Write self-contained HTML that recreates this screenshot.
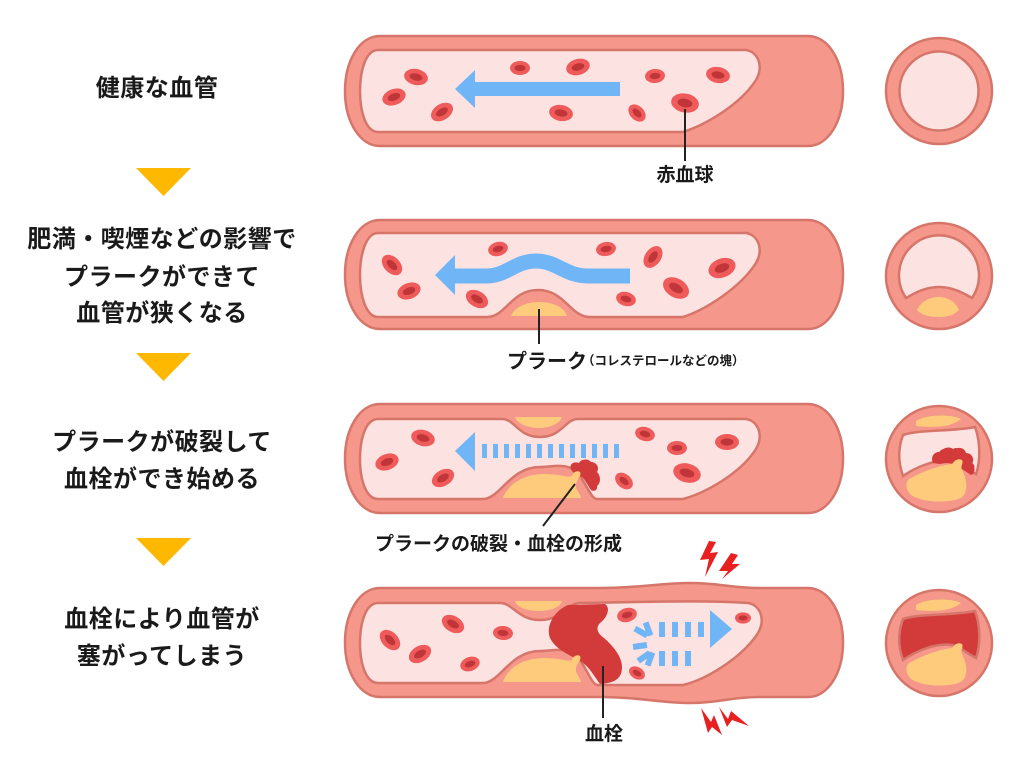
<!DOCTYPE html>
<html>
<head>
<meta charset="utf-8">
<style>
html,body{margin:0;padding:0;background:#fff;}
svg{display:block;}
text{font-family:"Liberation Sans","Noto Sans CJK JP",sans-serif;font-weight:700;fill:#1a1a1a;}
</style>
</head>
<body>
<svg width="1024" height="768" viewBox="0 0 1024 768" xmlns="http://www.w3.org/2000/svg">
<defs>
  <g id="rbc"><ellipse rx="12" ry="8" fill="#EF5B5B"/><ellipse rx="6.5" ry="3.6" fill="#BF3538"/></g>
  <g id="rbcs"><ellipse rx="10" ry="7" fill="#EF5B5B"/><ellipse rx="5.5" ry="3.1" fill="#BF3538"/></g>
  <g id="rbcl"><ellipse rx="14" ry="9.5" fill="#EF5B5B"/><ellipse rx="7.5" ry="4.2" fill="#BF3538"/></g>
</defs>

<!-- Left labels -->
<g font-size="24" text-anchor="middle" letter-spacing="0.5">
  <text x="157" y="96">健康な血管</text>
  <text x="162" y="247">肥満・喫煙などの影響で</text>
  <text x="162" y="285">プラークができて</text>
  <text x="162" y="321">血管が狭くなる</text>
  <text x="162" y="450">プラークが破裂して</text>
  <text x="162" y="487">血栓ができ始める</text>
  <text x="162" y="627">血栓により血管が</text>
  <text x="162" y="664">塞がってしまう</text>
</g>
<g fill="#FFB800">
  <polygon points="136,168 191,168 163.5,196"/>
  <polygon points="136,353 191,353 163.5,381"/>
  <polygon points="136,538 191,538 163.5,566"/>
</g>

<!-- ===== Vessel 1 ===== -->
<path d="M380 36 H808 C828 36 843 60 843 91 C843 122 828 146 808 146 H380 C360 146 345 122 345 91 C345 60 360 36 380 36 Z" fill="#F5978A" stroke="#D6766A" stroke-width="2.5"/>
<path d="M378 50 H746 C758 52 764 66 756 80 C740 105 705 125 683 132 H378 C366 132 360 112 360 91 C360 70 366 50 378 50 Z" fill="#FDE2E2" stroke="#D6766A" stroke-width="2.5"/>
<polygon points="455,89 475,70 475,82 620,82 620,96 475,96 475,108" fill="#70B5F5"/>
<use href="#rbc" transform="translate(416,77) rotate(12)"/>
<use href="#rbc" transform="translate(394,97) rotate(-20)"/>
<use href="#rbc" transform="translate(442,112) rotate(-32)"/>
<use href="#rbcs" transform="translate(520,68)"/>
<use href="#rbc" transform="translate(578,67) rotate(-15)"/>
<use href="#rbc" transform="translate(561,113) rotate(10)"/>
<use href="#rbcs" transform="translate(655,76) rotate(-5)"/>
<use href="#rbc" transform="translate(718,75) rotate(10)"/>
<use href="#rbcs" transform="translate(637,113) rotate(45)"/>
<use href="#rbcl" transform="translate(685,103) rotate(10)"/>
<line x1="685" y1="109" x2="685" y2="161" stroke="#222" stroke-width="2"/>
<text x="685" y="181" font-size="19" text-anchor="middle">赤血球</text>

<!-- ===== Vessel 2 ===== -->
<path d="M380 220 H808 C828 220 843 244 843 274.5 C843 305 828 329 808 329 H380 C360 329 345 305 345 274.5 C345 244 360 220 380 220 Z" fill="#F5978A" stroke="#D6766A" stroke-width="2.5"/>
<path d="M378 233 H746 C758 235 764 249 756 263 C740 288 705 310 683 317 H590 C570 317 565 290 538 290 C511 290 506 317 487 317 H378 C366 317 360 296 360 275 C360 254 366 233 378 233 Z" fill="#FDE2E2" stroke="#D6766A" stroke-width="2.5"/>
<path d="M511 316 C515 306 528 302 539 302 C551 302 564 306 567 316 Z" fill="#FDCB7B"/>
<path d="M630 276 H588 C565 276 557 261 536 261 C515 261 507 276 486 276 H453" fill="none" stroke="#70B5F5" stroke-width="15"/>
<polygon points="435,275 455,255 455,295" fill="#70B5F5"/>
<use href="#rbc" transform="translate(392,265) rotate(45)"/>
<use href="#rbc" transform="translate(409,291) rotate(-20)"/>
<use href="#rbcs" transform="translate(498,249) rotate(-15)"/>
<use href="#rbc" transform="translate(477,299) rotate(30)"/>
<use href="#rbcs" transform="translate(606,249) rotate(-10)"/>
<use href="#rbc" transform="translate(653,257) rotate(-55)"/>
<use href="#rbcs" transform="translate(626,299) rotate(15)"/>
<use href="#rbcl" transform="translate(722,268) rotate(-20)"/>
<use href="#rbcl" transform="translate(676,288) rotate(30)"/>
<line x1="539" y1="309" x2="539" y2="344" stroke="#222" stroke-width="2"/>
<text x="507" y="368" font-size="20">プラーク</text>
<text x="582" y="365" font-size="12.5">（コレステロールなどの塊）</text>

<!-- ===== Vessel 3 ===== -->
<path d="M380 404 H808 C828 404 843 428 843 458.5 C843 489 828 513 808 513 H380 C360 513 345 489 345 458.5 C345 428 360 404 380 404 Z" fill="#F5978A" stroke="#D6766A" stroke-width="2.5"/>
<path d="M378 419 H502 C515 419 518 437 540 437 C562 437 565 419 578 419 H746 C758 421 764 435 756 449 C740 474 705 493 683 499 H597 C590 499 585 478 574 470 C565 463 550 467 540 467 C510 467 500 499 483 499 H378 C366 499 360 480 360 459 C360 438 366 419 378 419 Z" fill="#FDE2E2" stroke="#D6766A" stroke-width="2.5"/>
<path d="M515 417 H562 C560 424 549 428 539 428 C528 428 517 424 515 417 Z" fill="#FDCB7B"/>
<path d="M571 469 C569 464 574 461 579 463 C581 459 588 458 591 462 C596 462 600 467 597 472 C601 476 601 483 597 486 C598 490 594 492 591 490 C588 486 586 481 582 477 C577 475 572 473 571 469 Z" fill="#D33A3A"/>
<g fill="#D33A3A">
  <circle cx="586" cy="467" r="6"/>
  <circle cx="592" cy="477" r="6"/>
</g>
<path d="M503 498 C508 485 522 474 545 474 C560 474 568 478 572 476 C573 472 577 470 580 472 C582 476 577 479 576 484 C575 490 581 494 581 498 Z" fill="#FDCB7B"/>
<g fill="#70B5F5">
  <polygon points="455,451 475,432 475,471"/>
  <rect x="482" y="444" width="5" height="14"/><rect x="493" y="444" width="5" height="14"/>
  <rect x="504" y="444" width="5" height="14"/><rect x="515" y="444" width="5" height="14"/>
  <rect x="526" y="444" width="5" height="14"/><rect x="537" y="444" width="5" height="14"/>
  <rect x="548" y="444" width="5" height="14"/><rect x="559" y="444" width="5" height="14"/>
  <rect x="570" y="444" width="5" height="14"/><rect x="581" y="444" width="5" height="14"/>
  <rect x="592" y="444" width="5" height="14"/><rect x="603" y="444" width="5" height="14"/>
  <rect x="614" y="444" width="5" height="14"/>
</g>
<use href="#rbc" transform="translate(423,438) rotate(15)"/>
<use href="#rbc" transform="translate(387,462) rotate(-20)"/>
<use href="#rbc" transform="translate(443,478) rotate(-30)"/>
<use href="#rbcs" transform="translate(645,434) rotate(15)"/>
<use href="#rbcs" transform="translate(677,448)"/>
<use href="#rbc" transform="translate(727,442)"/>
<use href="#rbcs" transform="translate(624,481) rotate(40)"/>
<use href="#rbcl" transform="translate(687,473) rotate(15)"/>
<line x1="575" y1="484" x2="543" y2="526" stroke="#222" stroke-width="2"/>
<text x="375" y="550" font-size="19">プラークの破裂・血栓の形成</text>

<!-- ===== Vessel 4 ===== -->
<path d="M380 588 H600 C640 588 660 583 690 583 C720 583 730 588 760 588 H808 C828 588 843 612 843 642.5 C843 673 828 697 808 697 H760 C730 697 720 703 690 703 C660 703 640 697 600 697 H380 C360 697 345 673 345 642.5 C345 612 360 588 380 588 Z" fill="#F5978A" stroke="#D6766A" stroke-width="2.5"/>
<path d="M378 603 H500 C513 603 518 620 540 620 C562 620 567 603 580 603 C650 602 700 600 748 603 C760 605 766 619 758 633 C742 658 705 680 683 685 H597 C590 683 585 662 574 654 C565 647 550 651 540 651 C510 651 500 683 483 683 H378 C366 683 360 664 360 643 C360 622 366 603 378 603 Z" fill="#FDE2E2" stroke="#D6766A" stroke-width="2.5"/>
<path d="M515 601 H562 C560 608 549 611 539 611 C528 611 517 608 515 601 Z" fill="#FDCB7B"/>
<path d="M568 605 L605 604 C611 608 607 618 600 623 C595 628 598 634 604 638 C612 645 622 656 622 667 C622 677 617 683 600 684 C594 676 590 668 582 662 C570 655 556 650 550 638 C546 628 552 612 568 605 Z" fill="#D33A3A"/>
<path d="M503 682 C508 668 522 658 545 658 C560 658 568 662 572 660 C573 656 577 654 580 656 C582 660 577 663 576 668 C575 674 581 678 581 682 Z" fill="#FDCB7B"/>
<g fill="#70B5F5">
  <rect x="659" y="622" width="6" height="15"/><rect x="672" y="622" width="6" height="15"/>
  <rect x="685" y="622" width="6" height="15"/><rect x="698" y="622" width="6" height="15"/>
  <polygon points="710,610 732,629 710,648"/>
  <rect x="659" y="651" width="6" height="15"/><rect x="672" y="651" width="6" height="15"/>
  <rect x="685" y="651" width="6" height="15"/>
  <rect x="645" y="622" width="6" height="14" transform="rotate(-20 648 629)"/>
  <rect x="634" y="629" width="14" height="6" transform="rotate(30 641 632)"/>
  <rect x="633" y="643" width="14" height="6" transform="rotate(-8 640 646)"/>
  <rect x="637" y="654" width="14" height="6" transform="rotate(-35 644 657)"/>
  <rect x="647" y="652" width="6" height="14" transform="rotate(20 650 659)"/>
</g>
<use href="#rbc" transform="translate(390,640) rotate(45)"/>
<use href="#rbc" transform="translate(420,654) rotate(-30)"/>
<use href="#rbc" transform="translate(453,624) rotate(30)"/>
<use href="#rbcs" transform="translate(503,633) rotate(5)"/>
<use href="#rbcs" transform="translate(470,664) rotate(-20)"/>
<use href="#rbcs" transform="translate(627,615) rotate(-15)"/>
<use href="#rbcs" transform="translate(743,618) scale(0.8)"/>
<use href="#rbcs" transform="translate(637,673) rotate(30) scale(0.85)"/>
<line x1="603" y1="666" x2="603" y2="718" stroke="#222" stroke-width="2"/>
<text x="604" y="740" font-size="19" text-anchor="middle">血栓</text>

<!-- Lightning -->
<g fill="#E8201F">
  <polygon points="716,542 710,553 718,552 705,577 709,559 700,560 709,541"/>
  <polygon points="738,555 732,564 740,564 722,579 728,571 719,571 731,553"/>
  <polygon points="701,708 711,722 714,715 722,735 712,727 708,733"/>
  <polygon points="719,707 728,719 731,711 749,726 732,720 727,727"/>
</g>

<!-- ===== Cross-section circles ===== -->
<!-- 1 -->
<circle cx="939" cy="91" r="53" fill="#F5978A" stroke="#D6766A" stroke-width="2.5"/>
<circle cx="939" cy="91" r="39.5" fill="#FDE2E2" stroke="#D6766A" stroke-width="2.5"/>
<!-- 2 -->
<circle cx="939" cy="276" r="53" fill="#F5978A" stroke="#D6766A" stroke-width="2.5"/>
<path d="M906 298 A40 40 0 1 1 972 298 C963 293 953 287 939 287 C925 287 915 293 906 298 Z" fill="#FDE2E2" stroke="#D6766A" stroke-width="2.5"/>
<path d="M917 310 C921 301 930 297 939 297 C949 297 956 303 959 310 C953 316 946 317 938 317 C929 317 921 315 917 310 Z" fill="#FDCB7B"/>
<!-- 3 -->
<circle cx="939" cy="459" r="53" fill="#F5978A" stroke="#D6766A" stroke-width="2.5"/>
<path d="M903 435 C922 429 950 432 975 427 C980 440 981 460 976 474 C966 469 961 463 952 461 C935 459 916 467 903 476 C898 462 898 448 903 435 Z" fill="#FDE2E2" stroke="#D6766A" stroke-width="2.5"/>
<path d="M916 421 C926 414 952 414 961 419 C952 427 935 428 916 426 Z" fill="#FDCB7B"/>
<path d="M933 463 C930 456 935 451 941 452 C943 447 951 446 954 450 C958 446 965 448 966 453 C972 453 975 459 972 464 C976 468 975 474 971 475 L962 469 C955 463 948 462 940 464 Z" fill="#D33A3A"/>
<g fill="#D33A3A">
  <circle cx="944" cy="454" r="5"/><circle cx="956" cy="453" r="5"/>
  <circle cx="965" cy="459" r="5"/><circle cx="970" cy="467" r="4.5"/>
</g>
<path d="M909 479 C924 471 940 465 952 464 C955 460 958 458 962 460 C964 463 960 466 962 470 C967 480 969 492 961 498 C946 504 921 502 911 495 C906 490 905 483 909 479 Z" fill="#FDCB7B"/>
<!-- 4 -->
<circle cx="939" cy="643" r="53" fill="#F5978A" stroke="#D6766A" stroke-width="2.5"/>
<g transform="translate(0,184)">
  <path d="M903 435 C922 429 950 432 975 427 C980 440 981 460 976 474 C966 469 961 463 952 461 C935 459 916 467 903 476 C898 462 898 448 903 435 Z" fill="#D33A3A" stroke="#D6766A" stroke-width="2.5"/>
  <path d="M916 421 C926 414 952 414 961 419 C952 427 935 428 916 426 Z" fill="#FDCB7B"/>
  <path d="M909 479 C924 471 940 465 952 464 C955 460 958 458 962 460 C964 463 960 466 962 470 C967 480 969 492 961 498 C946 504 921 502 911 495 C906 490 905 483 909 479 Z" fill="#FDCB7B"/>
</g>
</svg>
</body>
</html>
